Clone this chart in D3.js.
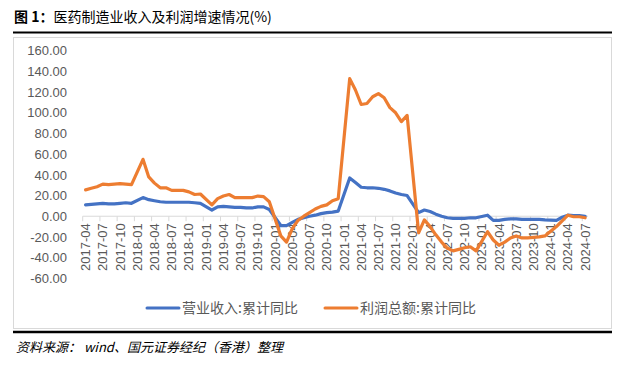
<!DOCTYPE html>
<html>
<head>
<meta charset="utf-8">
<script src="https://cdn.jsdelivr.net/npm/d3@7"></script>
<style>
  body { margin: 0; background: #fff; }
  svg { display: block; }
</style>
</head>
<body>
<div id="chart"></div>
<script>
////////////////////////////////////////////////////////////////////////
// Data (cumulative YoY %, January not reported -> null)

let months = d3.timeMonth.range(new Date(2017, 3, 1), new Date(2024, 7, 1))
  .map(d3.timeFormat("%Y-%m"));  // 2017-04 .. 2024-07

let revenue = [
  11, 11.5, 12, 12.5, 12, 12, 12.5, 13, 12.5,            // 2017-04..12
  null, 18, 16, 15, 14, 13.5, 13.5, 13.5, 13.5, 13.5, 13, 12.5,   // 2018
  null, 6, 9, 9.5, 9, 8.5, 8.5, 8, 8, 9, 9, 6.5,          // 2019
  null, -9, -9, -6, -3, -1.5, 0, 1, 2.5, 3.5, 4, 5,       // 2020
  null, 37, 32.5, 28, 27.5, 27.5, 27, 26, 24.5, 22.5, 21, 20,   // 2021
  null, 3.5, 6, 4.5, 2, 0, -1.5, -2, -2, -2, -1.5, -1.5,  // 2022
  null, 1, -4, -4, -3, -2.5, -2.5, -3, -3, -3, -3, -3.5,  // 2023
  null, -4, -1, 1, 0.5, 0.5, 0                            // 2024
];

let profit = [
  25.5, 27, 28.5, 31, 30.5, 31, 31.5, 31, 30.5,
  null, 55, 38, 32, 27.5, 27.5, 25, 25, 25, 23.5, 21, 21.5,
  null, 11, 17, 19.5, 21, 18, 18, 18, 18, 19.5, 19, 14,
  null, -19, -25, -12, -4, 0, 3.5, 7, 9.5, 11, 15, 17,
  null, 133, 122, 108, 109, 115.5, 118.5, 114.5, 105, 100, 91.5, 97.5,
  null, -16, -3.5, -10, -18, -25, -31, -33.5, -32, -30.5, -29.5, -33.5,
  null, -15, -23, -28, -25, -21, -19, -21, -21, -20.5, -20, -19,
  null, -10, -4.5, 1, -0.5, -0.5, -1.5
];

let yTicks = [-60, -40, -20, 0, 20, 40, 60, 80, 100, 120, 140, 160];

let series = [
  { name: "营业收入:累计同比", values: revenue, color: "#4472C4" },
  { name: "利润总额:累计同比", values: profit, color: "#ED7D31" }
];

////////////////////////////////////////////////////////////////////////
// SVG setup

let width = 626, height = 370;

let svg = d3.select("#chart").append("svg")
  .attr("width", width).attr("height", height);

svg.append("rect").attr("width", width).attr("height", height).attr("fill", "#fff");

// title
let title = svg.append("text")
  .attr("x", 14).attr("y", 22)
  .style("font-family", "'Noto Sans CJK SC', sans-serif")
  .style("font-size", "14px")
  .attr("fill", "#000");
title.append("tspan").style("font-weight", "bold").text("图 1：");
title.append("tspan").text("医药制造业收入及利润增速情况(%)");

svg.append("line")
  .attr("x1", 13).attr("x2", 612).attr("y1", 32.5).attr("y2", 32.5)
  .attr("stroke", "#000").attr("stroke-width", 2);

// chart frame
svg.append("rect")
  .attr("x", 13.5).attr("y", 37.5).attr("width", 598).attr("height", 291)
  .attr("fill", "none").attr("stroke", "#d9d9d9");

////////////////////////////////////////////////////////////////////////
// Scales and axes

let x = d3.scaleBand().domain(months).range([82.7, 588]);
let y = d3.scaleLinear().domain([-60, 160]).range([278.3, 50.7]);
let cx = m => x(m) + x.bandwidth() / 2;

// y axis labels
let yAxis = svg.append("g")
  .attr("transform", "translate(70,0)")
  .call(d3.axisLeft(y).tickValues(yTicks).tickSize(0).tickPadding(3)
    .tickFormat(d => d.toFixed(2)));
yAxis.select(".domain").remove();
yAxis.selectAll("text")
  .style("font-family", "'Liberation Sans', Arial, sans-serif")
  .style("font-size", "13px")
  .attr("fill", "#595959");

// zero line
svg.append("line")
  .attr("x1", 82.7).attr("x2", 588).attr("y1", y(0)).attr("y2", y(0))
  .attr("stroke", "#d9d9d9").attr("stroke-width", 1);

// tick marks every 3 categories
svg.append("g").selectAll("line")
  .data(months.filter((m, i) => i % 3 === 0))
  .enter().append("line")
  .attr("x1", d => x(d)).attr("x2", d => x(d))
  .attr("y1", y(0)).attr("y2", y(0) + 5)
  .attr("stroke", "#d9d9d9");

// x axis labels
let xAxis = svg.append("g")
  .attr("transform", `translate(0,${y(0)})`)
  .call(d3.axisBottom(x).tickValues(months.filter((m, i) => i % 3 === 0)).tickSize(0));
xAxis.select(".domain").remove();
xAxis.selectAll("text")
  .attr("transform", "rotate(-90)")
  .attr("text-anchor", "end")
  .attr("x", -7).attr("y", 0).attr("dy", "0.35em")
  .style("font-family", "'Liberation Sans', Arial, sans-serif")
  .style("font-size", "13px")
  .attr("fill", "#595959");

////////////////////////////////////////////////////////////////////////
// Lines (January gaps are bridged, as in the source)

let line = d3.line()
  .x(d => cx(d.m))
  .y(d => y(d.v));

series.forEach(s => {
  let pts = months.map((m, i) => ({ m: m, v: s.values[i] })).filter(d => d.v !== null);
  svg.append("path")
    .datum(pts)
    .attr("d", line)
    .attr("fill", "none")
    .attr("stroke", s.color)
    .attr("stroke-width", 3.2)
    .attr("stroke-linejoin", "round")
    .attr("stroke-linecap", "round");
});

////////////////////////////////////////////////////////////////////////
// Legend

let legendX = [147, 325];
let legend = svg.selectAll(".legend")
  .data(series)
  .enter().append("g")
  .attr("class", "legend")
  .attr("transform", (d, i) => `translate(${legendX[i]},308)`);

legend.append("line")
  .attr("x1", 0).attr("x2", 32).attr("y1", 0).attr("y2", 0)
  .attr("stroke", d => d.color).attr("stroke-width", 3)
  .attr("stroke-linecap", "round");

legend.append("text")
  .attr("x", 35).attr("y", 0).attr("dy", "0.35em")
  .style("font-family", "'Noto Sans CJK SC', sans-serif")
  .style("font-size", "14px")
  .attr("fill", "#595959")
  .text(d => d.name);

////////////////////////////////////////////////////////////////////////
// Footer

svg.append("line")
  .attr("x1", 13).attr("x2", 612).attr("y1", 332).attr("y2", 332)
  .attr("stroke", "#000").attr("stroke-width", 2.5);

svg.append("text")
  .attr("x", 16).attr("y", 352)
  .style("font-family", "'Noto Sans CJK SC', sans-serif")
  .style("font-size", "13px")
  .style("font-style", "italic")
  .attr("fill", "#000")
  .text("资料来源： wind、国元证券经纪（香港）整理");
</script>
</body>
</html>
